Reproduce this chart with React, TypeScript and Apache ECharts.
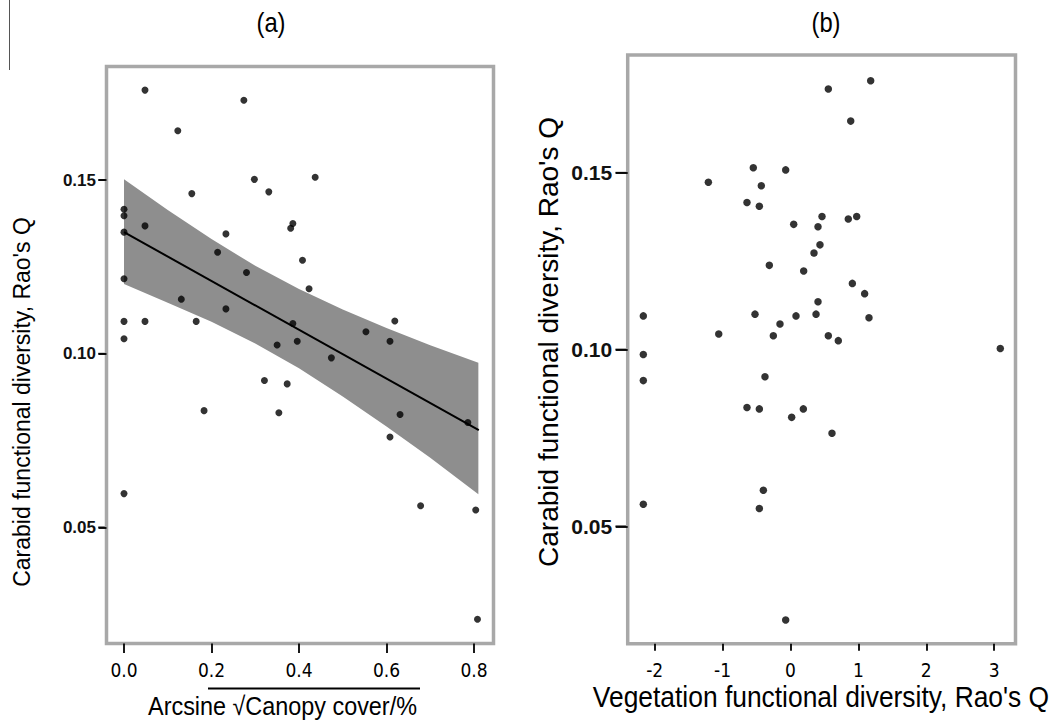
import React, { useEffect, useRef } from "react";
import * as echarts from "echarts";

// Panel (a): canopy cover vs carabid FD
const canopyX = [0.048, 0.274, 0.123, 0.298, 0.437, 0.155, 0.331, 0.0, 0.0, 0.048, 0.0, 0.386, 0.381, 0.233, 0.214, 0.408, 0.280, 0.0, 0.423, 0.131, 0.233, 0.0, 0.048, 0.165, 0.386, 0.0, 0.396, 0.350, 0.474, 0.619, 0.553, 0.608, 0.321, 0.373, 0.183, 0.354, 0.0, 0.631, 0.786, 0.608, 0.678, 0.804, 0.808];
const carabidA = [0.1759, 0.1730, 0.1642, 0.1502, 0.1508, 0.1461, 0.1466, 0.1416, 0.1397, 0.1368, 0.1350, 0.1375, 0.1361, 0.1345, 0.1292, 0.1269, 0.1234, 0.1216, 0.1187, 0.1157, 0.1129, 0.1093, 0.1093, 0.1093, 0.1087, 0.1043, 0.1036, 0.1025, 0.0988, 0.1094, 0.1063, 0.1036, 0.0923, 0.0913, 0.0836, 0.0830, 0.0597, 0.0825, 0.0802, 0.0760, 0.0562, 0.0550, 0.0235];

// Fitted line and confidence band
const fitX = [0, 0.811];
const fitY = [0.1350, 0.0780];
const bandX = [0, 0.1, 0.2, 0.3, 0.4, 0.5, 0.6, 0.7, 0.81];
const bandUpper = [0.1502, 0.1414, 0.1330, 0.1253, 0.1186, 0.1127, 0.1074, 0.1024, 0.0974];
const bandLower = [0.1201, 0.1147, 0.1092, 0.1029, 0.0958, 0.0877, 0.0790, 0.0700, 0.0595];

// Panel (b): vegetation FD vs carabid FD
const vegX = [0.557, -0.548, -0.071, -1.21, -0.43, -0.641, -0.459, 0.464, 0.405, 0.047, 0.434, 0.346, -0.312, 0.194, 0.405, -2.168, -0.523, 0.081, 0.376, -0.155, -1.057, -0.253, 0.557, 0.704, -2.168, -2.168, -0.376, -0.641, -0.459, 0.189, 0.017, 0.611, -2.168, -0.40, -0.459, -0.071, 1.181, 0.887, 0.851, 0.975, 0.911, 1.092, 1.156, 3.09];
const carabidB = [0.1737, 0.1514, 0.1508, 0.1473, 0.1463, 0.1416, 0.1405, 0.1376, 0.1347, 0.1354, 0.1296, 0.1273, 0.1238, 0.1222, 0.1135, 0.1095, 0.1100, 0.1095, 0.1100, 0.1072, 0.1044, 0.1039, 0.1039, 0.1025, 0.0986, 0.0912, 0.0923, 0.0836, 0.0832, 0.0832, 0.0808, 0.0763, 0.0562, 0.0602, 0.0550, 0.0235, 0.1760, 0.1646, 0.1369, 0.1376, 0.1187, 0.1158, 0.1090, 0.1003];

// Tick values
const xTicksA = [0, 0.2, 0.4, 0.6, 0.8];
const xTicksB = [-2, -1, 0, 1, 2, 3];
const yTicks = [0.05, 0.1, 0.15];

// Axis ranges
const xRangeA = [-0.040, 0.8446];
const yRangeA = [0.01654, 0.1827];
const xRangeB = [-2.398, 3.314];
const yRangeB = [0.01675, 0.1833];

const SANS = "'Liberation Sans', Arial, sans-serif";
const COND = "'DejaVu Sans Condensed', 'Liberation Sans', sans-serif";

export default function App() {
  const ref = useRef<HTMLDivElement>(null);
  useEffect(() => {
    if (!ref.current) return;
    const chart = echarts.init(ref.current, null, { renderer: "svg" });
    const tickStyle = { color: "#000", width: 1.8 };
    const frame = { show: true, borderColor: "#a8a8a8", borderWidth: 3.5, backgroundColor: "#fff" };
    const hiddenLine = { show: true, onZero: false, lineStyle: { color: "rgba(0,0,0,0)", width: 0 } };
    const yTickMarks = (gi: number, xMin: number, len: number) => ({
      type: "scatter", xAxisIndex: gi, yAxisIndex: gi, z: 20, silent: true, clip: false,
      symbol: "rect", symbolSize: [len - 1.5, 1.8], symbolOffset: [-(len + 1.5) / 2 - 0.25, 0],
      data: yTicks.map((v) => [xMin, v]),
      itemStyle: { color: "#000" },
    });
    const texts: any[] = [
      { type: "text", x: 271, y: 22, scaleX: 0.85, style: { text: "(a)", fontSize: 28, fontFamily: SANS, fill: "#000", align: "center", verticalAlign: "middle" } },
      { type: "text", x: 826, y: 22, scaleX: 0.85, style: { text: "(b)", fontSize: 28, fontFamily: SANS, fill: "#000", align: "center", verticalAlign: "middle" } },
      { type: "text", x: 282.5, y: 706, scaleX: 0.9, style: { text: "Arcsine \u221ACanopy cover/%", fontSize: 26, fontFamily: SANS, fill: "#000", align: "center", verticalAlign: "middle" } },
      { type: "line", shape: { x1: 208, y1: 688.5, x2: 420, y2: 688.5 }, style: { stroke: "#000", lineWidth: 1.8 } },
      { type: "text", x: 821, y: 697, scaleX: 0.91, style: { text: "Vegetation functional diversity, Rao's Q", fontSize: 29, fontFamily: SANS, fill: "#000", align: "center", verticalAlign: "middle" } },
      { type: "text", x: 22, y: 402, rotation: Math.PI / 2, style: { text: "Carabid functional diversity, Rao's Q", fontSize: 23, fontFamily: SANS, fill: "#000", align: "center", verticalAlign: "middle" } },
      { type: "text", x: 548, y: 342, rotation: Math.PI / 2, style: { text: "Carabid functional diversity, Rao's Q", fontSize: 28, fontFamily: SANS, fill: "#000", align: "center", verticalAlign: "middle" } },
      { type: "line", shape: { x1: 9.5, y1: 0, x2: 9.5, y2: 70 }, style: { stroke: "#555", lineWidth: 1 } },
    ];
    const option: any = {
      animation: false,
      backgroundColor: "#fff",
      grid: [
        { left: 106.5, top: 66.5, width: 387, height: 577, ...frame },
        { left: 627.7, top: 55, width: 387.8, height: 588.8, ...frame },
      ],
      xAxis: [
        {
          type: "value", gridIndex: 0, min: xRangeA[0], max: xRangeA[1], z: 5,
          splitLine: { show: false }, axisLine: hiddenLine,
          axisTick: { show: true, length: 9.5, lineStyle: tickStyle, customValues: xTicksA },
          axisLabel: { customValues: xTicksA, formatter: (v: number) => v.toFixed(1), margin: 17, fontSize: 19, color: "#000", fontFamily: COND },
        },
        {
          type: "value", gridIndex: 1, min: xRangeB[0], max: xRangeB[1], z: 5,
          splitLine: { show: false }, axisLine: hiddenLine,
          axisTick: { show: true, length: 7, lineStyle: tickStyle, customValues: xTicksB },
          axisLabel: { customValues: xTicksB, formatter: (v: number) => String(v), margin: 17, fontSize: 19, color: "#000", fontFamily: COND },
        },
      ],
      yAxis: [
        {
          type: "value", gridIndex: 0, min: yRangeA[0], max: yRangeA[1], z: 5,
          splitLine: { show: false }, axisLine: hiddenLine,
          axisTick: { show: true, length: 8, lineStyle: tickStyle, customValues: yTicks },
          axisLabel: { customValues: yTicks, formatter: (v: number) => v.toFixed(2), margin: 10.5, fontSize: 17, color: "#111", fontFamily: SANS, fontWeight: "bold" },
        },
        {
          type: "value", gridIndex: 1, min: yRangeB[0], max: yRangeB[1], z: 5,
          splitLine: { show: false }, axisLine: hiddenLine,
          axisTick: { show: true, length: 12, lineStyle: tickStyle, customValues: yTicks },
          axisLabel: { customValues: yTicks, formatter: (v: number) => v.toFixed(2), margin: 15.5, fontSize: 21, color: "#111", fontFamily: SANS, fontWeight: "bold" },
        },
      ],
      series: [
        {
          type: "custom", xAxisIndex: 0, yAxisIndex: 0, silent: true, z: 1,
          data: [[0, 0.1]],
          renderItem: (_p: any, api: any) => {
            const pts: number[][] = [];
            bandX.forEach((x, i) => pts.push(api.coord([x, bandUpper[i]])));
            for (let i = bandX.length - 1; i >= 0; i--) pts.push(api.coord([bandX[i], bandLower[i]]));
            return { type: "polygon", shape: { points: pts }, style: { fill: "#8e8e8e" } };
          },
        },
        {
          type: "line", xAxisIndex: 0, yAxisIndex: 0, z: 2, symbol: "none",
          data: fitX.map((x, i) => [x, fitY[i]]),
          lineStyle: { color: "#000", width: 2 },
        },
        {
          type: "scatter", xAxisIndex: 0, yAxisIndex: 0, z: 3, symbolSize: 7,
          data: canopyX.map((x, i) => [x, carabidA[i]]),
          itemStyle: { color: "#000" },
        },
        {
          type: "scatter", xAxisIndex: 1, yAxisIndex: 1, z: 3, symbolSize: 7.5,
          data: vegX.map((x, i) => [x, carabidB[i]]),
          itemStyle: { color: "#000" },
        },
        yTickMarks(0, xRangeA[0], 8),
        yTickMarks(1, xRangeB[0], 12),
      ],
      graphic: texts,
    };
    chart.setOption(option);
    return () => chart.dispose();
  }, []);
  return <div ref={ref} style={{ position: "fixed", left: 0, top: 0, width: 1054, height: 723 }} />;
}
